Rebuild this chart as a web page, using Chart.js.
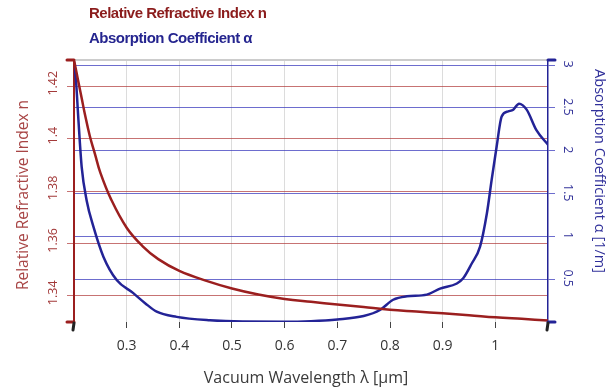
<!DOCTYPE html>
<html>
<head>
<meta charset="utf-8">
<script src="https://cdn.jsdelivr.net/npm/chart.js@4"></script>
<style>
body { margin: 0; background: #fff; }
#wrap { position: relative; width: 610px; height: 387px; }
.leg { position: absolute; left: 89px; font: bold 15px/15px "Liberation Sans", Arial, sans-serif; letter-spacing: -0.5px; white-space: nowrap; }
</style>
</head>
<body>
<div id="wrap">
  <canvas id="myChart" width="610" height="387"></canvas>
  <div class="leg" style="top:5px;color:#8b1c1c">Relative Refractive Index n</div>
  <div class="leg" style="top:30px;color:#25258f">Absorption Coefficient α</div>
</div>
<script>
// refractive index n vs wavelength (µm)
const nWavelength = [0.2, 0.205, 0.21, 0.215, 0.22, 0.23, 0.24, 0.25, 0.27, 0.3, 0.33, 0.36, 0.4, 0.45, 0.5, 0.55, 0.6, 0.65, 0.7, 0.75, 0.8, 0.85, 0.9, 0.95, 1.0, 1.05, 1.1];
const nValues = [1.430, 1.425, 1.420, 1.415, 1.410, 1.401, 1.394, 1.387, 1.377, 1.366, 1.359, 1.354, 1.3495, 1.3458, 1.3428, 1.3405, 1.3388, 1.3377, 1.3367, 1.3357, 1.3347, 1.334, 1.3333, 1.3326, 1.3318, 1.3312, 1.3306];

// absorption coefficient alpha (1/m)
const aWavelength = [0.2, 0.204, 0.208, 0.2146, 0.224, 0.237, 0.256, 0.281, 0.312, 0.335, 0.357, 0.395, 0.458, 0.52, 0.6, 0.65, 0.7, 0.75, 0.781, 0.806, 0.832, 0.87, 0.895, 0.927, 0.939, 0.955, 0.971, 0.984, 0.993, 1.0025, 1.012, 1.0245, 1.034, 1.045, 1.0595, 1.078, 1.1];
const aValues = [3.04, 2.80, 2.40, 1.81, 1.42, 1.11, 0.76, 0.49, 0.34, 0.22, 0.12, 0.06, 0.02, 0.005, 0.003, 0.01, 0.03, 0.07, 0.14, 0.26, 0.30, 0.32, 0.39, 0.45, 0.51, 0.68, 0.88, 1.27, 1.66, 2.05, 2.40, 2.46, 2.48, 2.55, 2.48, 2.24, 2.07];

const xTicks = [0.3, 0.4, 0.5, 0.6, 0.7, 0.8, 0.9, 1.0];
const nTicks = [1.34, 1.36, 1.38, 1.4, 1.42];
const aTicks = [0.5, 1, 1.5, 2, 2.5, 3];

const red = '#9b1f1f';
const blue = '#232396';
const font = '"Open Sans", sans-serif';
const fmt = v => String(+(+v).toFixed(2));

function rotText(c, text, x, y, angle) {
  c.save(); c.translate(x, y); c.rotate(angle);
  c.fillText(text, 0, 0); c.restore();
}

const extras = {
  id: 'extras',
  afterDraw(chart) {
    const c = chart.ctx, a = chart.chartArea;
    const yn = chart.scales.yn, ya = chart.scales.ya;
    c.save();
    // top frame line
    c.strokeStyle = '#cccccc'; c.lineWidth = 2;
    c.beginPath(); c.moveTo(a.left, a.top); c.lineTo(a.right, a.top); c.stroke();
    c.textAlign = 'center'; c.textBaseline = 'middle';
    // rotated y tick labels
    c.font = '12.5px ' + font;
    c.fillStyle = '#a33a3a';
    nTicks.forEach(v => rotText(c, fmt(v), 53, yn.getPixelForValue(v) - 3, -Math.PI / 2));
    c.fillStyle = '#34349a';
    aTicks.forEach(v => rotText(c, fmt(v), 568, ya.getPixelForValue(v) - 1, Math.PI / 2));
    // axis titles
    c.font = '15.5px ' + font;
    c.fillStyle = '#a84545';
    rotText(c, 'Relative Refractive Index n', 24, 195, -Math.PI / 2);
    c.font = '14.5px ' + font;
    c.fillStyle = '#30309a';
    rotText(c, 'Absorption Coefficient α [1/m]', 599, 171, Math.PI / 2);
    c.font = '16px ' + font;
    c.fillStyle = '#3a3a3a';
    c.fillText('Vacuum Wavelength λ [µm]', 306, 378);
    // end caps
    c.lineWidth = 3; c.lineCap = 'round';
    c.strokeStyle = red;
    [a.top, a.bottom].forEach(y => { c.beginPath(); c.moveTo(67, y); c.lineTo(a.left, y); c.stroke(); });
    c.strokeStyle = blue;
    [a.top, a.bottom].forEach(y => { c.beginPath(); c.moveTo(a.right, y); c.lineTo(a.right + 7, y); c.stroke(); });
    c.strokeStyle = '#222';
    [a.left, a.right].forEach(x => { c.beginPath(); c.moveTo(x, a.bottom + 1); c.lineTo(x - 1, a.bottom + 8); c.stroke(); });
    c.restore();
  }
};

const cfg = {
  type: 'line',
  data: {
    datasets: [{
      label: 'Relative Refractive Index n',
      data: nWavelength.map((x, i) => ({x: x, y: nValues[i]})),
      yAxisID: 'yn',
      borderColor: red,
      borderWidth: 2.5,
      pointRadius: 0,
      tension: 0.4
    }, {
      label: 'Absorption Coefficient α',
      data: aWavelength.map((x, i) => ({x: x, y: aValues[i]})),
      yAxisID: 'ya',
      borderColor: blue,
      borderWidth: 2.5,
      pointRadius: 0,
      cubicInterpolationMode: 'monotone'
    }]
  },
  options: {
    responsive: false,
    animation: false,
    layout: { padding: { top: 60 } },
    plugins: { legend: { display: false }, tooltip: { enabled: false } },
    scales: {
      x: {
        type: 'linear', min: 0.2, max: 1.1,
        afterBuildTicks: s => { s.ticks = xTicks.map(v => ({value: v})); },
        afterFit: s => { s.height = 65; },
        ticks: { callback: fmt, color: '#333', padding: 10, font: { size: 14, family: font }, maxRotation: 0 },
        grid: { color: '#dcdcdc', tickColor: '#444', tickLength: 6 },
        border: { display: false }
      },
      yn: {
        position: 'left', min: 1.33, max: 1.43,
        afterBuildTicks: s => { s.ticks = nTicks.map(v => ({value: v})); },
        afterFit: s => { s.width = 74; },
        ticks: { display: false },
        grid: { color: 'rgba(175,55,55,0.7)', tickLength: 7 },
        border: { color: red, width: 2 }
      },
      ya: {
        position: 'right', min: 0, max: 3.06,
        afterBuildTicks: s => { s.ticks = aTicks.map(v => ({value: v})); },
        afterFit: s => { s.width = 62; },
        ticks: { display: false },
        grid: { color: 'rgba(60,60,190,0.75)', tickLength: 7 },
        border: { color: blue, width: 1.5 }
      }
    }
  },
  plugins: [extras]
};

const ctx = document.getElementById('myChart');
new Chart(ctx, cfg);
</script>
</body>
</html>
